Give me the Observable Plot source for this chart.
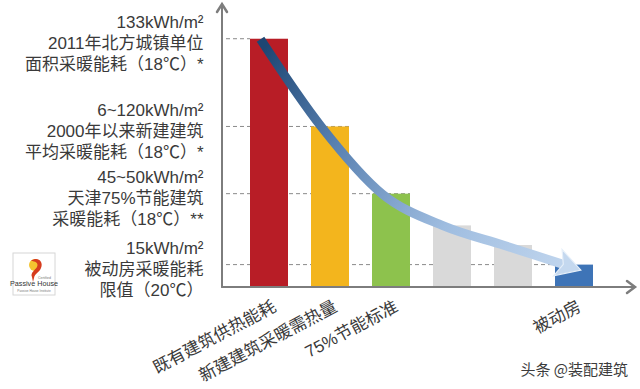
<!DOCTYPE html>
<html><head><meta charset="utf-8">
<script src="https://cdn.jsdelivr.net/npm/d3@7"></script>
<script src="https://cdn.jsdelivr.net/npm/@observablehq/plot@0.6"></script>
<style>
html,body{margin:0;padding:0;background:#fff;}
#chart svg{display:block;overflow:visible;}
</style></head><body><div id="chart"></div>
<script>
// ---- data ----
const categories = ["existing", "new", "std75", "gray1", "gray2", "passive"];
const tickLabels = ["既有建筑供热能耗", "新建建筑采暖需热量", "75%节能标准", "", "", "被动房"];
const values = [133, 86, 50, 33, 22.5, 12];
const barColors = ["#b81d26", "#f3b51d", "#8dc24d", "#d9d9d9", "#d9d9d9", "#3e74b7"];
const refCategories = ["existing", "new", "std75", "passive"];
const refLabels = [
  "133kWh/m²\n2011年北方城镇单位\n面积采暖能耗（18℃）*",
  "6~120kWh/m²\n2000年以来新建建筑\n平均采暖能耗（18℃）*",
  "45~50kWh/m²\n天津75%节能建筑\n采暖能耗（18℃）**",
  "15kWh/m²\n被动房采暖能耗\n限值（20℃）"
];
const watermark = "头条 @装配建筑";

const bars = categories.map((c, i) => ({cat: c, value: values[i], color: barColors[i], label: tickLabels[i]}));
const refs = refCategories.map((c, i) => ({cat: c, value: values[categories.indexOf(c)], label: refLabels[i]}));

const font = '"Liberation Sans", "Noto Sans CJK SC", sans-serif';
const cjkFont = '"Noto Sans CJK SC", sans-serif';

const plot = Plot.plot({
  width: 640,
  height: 389,
  marginLeft: 222,
  marginRight: 19,
  marginTop: 7,
  marginBottom: 102,
  style: {fontFamily: font, background: "#fff"},
  x: {domain: categories, paddingInner: 0.38, paddingOuter: 0.44, axis: null},
  y: {domain: [0, 150], axis: null},
  marks: [
    Plot.barY(bars, {x: "cat", y: "value", fill: "color"}),
    Plot.line(bars, {x: "cat", y: "value", curve: "monotone-x", dx: -9, stroke: "url(#trendGrad)", strokeWidth: 9, strokeLinecap: "butt", className: "trend"}),
    Plot.text(refs, {y: "value", text: "label", frameAnchor: "left", textAnchor: "end", dx: -19, dy: 3,
      lineHeight: 1.24, fontSize: 17, fill: "#3a3a3a"}),
    Plot.text(bars, {x: "cat", text: "label", frameAnchor: "bottom", textAnchor: "end", lineAnchor: "top",
      rotate: -28, dx: 2, dy: 12, fontSize: 17, fill: "#3a3a3a"})
  ]
});

const svg = d3.select(plot);
const xs = plot.scale("x"), ys = plot.scale("y");
const x0 = xs.range[0];
const yBase = ys.apply(0);
const bw = xs.bandwidth;

// defs
const defs = svg.insert("defs", ":first-child");
const startX = xs.apply(categories[0]) + bw / 2 - 9, startY = ys.apply(values[0]);
const endX = xs.apply(categories[5]) + bw / 2, endY = ys.apply(values[5]);
const grad = defs.append("linearGradient").attr("id", "trendGrad")
  .attr("gradientUnits", "userSpaceOnUse")
  .attr("x1", startX).attr("y1", startY).attr("x2", endX).attr("y2", endY);
grad.append("stop").attr("offset", 0).attr("stop-color", "#1d4673");
grad.append("stop").attr("offset", 0.3).attr("stop-color", "#5a82b2");
grad.append("stop").attr("offset", 0.65).attr("stop-color", "#9fbde0");
grad.append("stop").attr("offset", 1).attr("stop-color", "#c4d8ef");
const mk = defs.append("marker").attr("id", "trendHead")
  .attr("markerUnits", "userSpaceOnUse").attr("markerWidth", 30).attr("markerHeight", 30)
  .attr("viewBox", "0 -13 24 26").attr("refX", 7).attr("refY", 0).attr("orient", "auto");
mk.append("path").attr("d", "M0,-12 L21,0 L0,12 L5,0 Z").attr("fill", "#c4d8ef").attr("stroke", "#e6eff9").attr("stroke-width", 1);
svg.select("g.trend path").attr("marker-end", "url(#trendHead)");

// dashed reference lines (behind bars)
const dashG = svg.insert("g", "g[aria-label='bar']").attr("stroke", "#8a8a8a").attr("stroke-width", 1).attr("stroke-dasharray", "4,3");
refs.forEach(r => {
  const xl = xs.apply(r.cat);
  const xEnd = r.cat === "passive" || r.cat === "existing" ? xl : xl + bw;
  dashG.append("line").attr("x1", x0 + 4).attr("x2", xEnd).attr("y1", ys.apply(r.value)).attr("y2", ys.apply(r.value));
});

// axes with arrows
const axG = svg.append("g").attr("stroke", "#7d7d7d").attr("stroke-width", 2).attr("fill", "none").attr("stroke-linecap", "round");
const yTop = ys.apply(150) - 3;
const xRight = plot.getAttribute("width") - 5;
axG.append("path").attr("d", `M${x0},${yBase} V${yTop}`);
axG.append("path").attr("d", `M${x0 - 5},${yTop + 8} L${x0},${yTop} L${x0 + 5},${yTop + 8}`).attr("stroke-width", 2.5);
axG.append("path").attr("d", `M${x0},${yBase} H${xRight}`);
axG.append("path").attr("d", `M${xRight - 8},${yBase - 6} L${xRight},${yBase} L${xRight - 8},${yBase + 6}`).attr("stroke-width", 2.5);

// Passive House logo
const logo = svg.append("g").attr("transform", "translate(13,253)");
logo.append("rect").attr("width", 42).attr("height", 42).attr("fill", "#fff").attr("stroke", "#d6d6d6").attr("stroke-width", 1);
logo.append("circle").attr("cx", 22).attr("cy", 12).attr("r", 6).attr("fill", "#f4c430");
logo.append("path").attr("d", "M18,8 C24,3 31,8 28,15 C26,20 22,20 21,25 L20,29 L19,24 C17,20 22,17 24,14 C26,10 22,8 18,8 Z").attr("fill", "#d63c1e");
logo.append("text").attr("x", 38).attr("y", 26).attr("text-anchor", "end").attr("font-size", 3.5).attr("fill", "#777").text("Certified");
logo.append("text").attr("x", 21).attr("y", 33).attr("text-anchor", "middle").attr("font-size", 7.2).attr("font-family", "Liberation Sans Narrow, Liberation Sans, sans-serif").attr("fill", "#333").text("Passive House");
logo.append("text").attr("x", 21).attr("y", 38.5).attr("text-anchor", "middle").attr("font-size", 3.2).attr("fill", "#777").text("Passive House Institute");

// watermark
svg.append("text").attr("x", 628).attr("y", 375).attr("text-anchor", "end")
  .attr("font-size", 15).attr("font-family", cjkFont).attr("fill", "#3c3c3c")
  .attr("stroke", "#fff").attr("stroke-width", 2).attr("paint-order", "stroke").text(watermark);

document.getElementById("chart").appendChild(plot);
</script>
</body></html>
